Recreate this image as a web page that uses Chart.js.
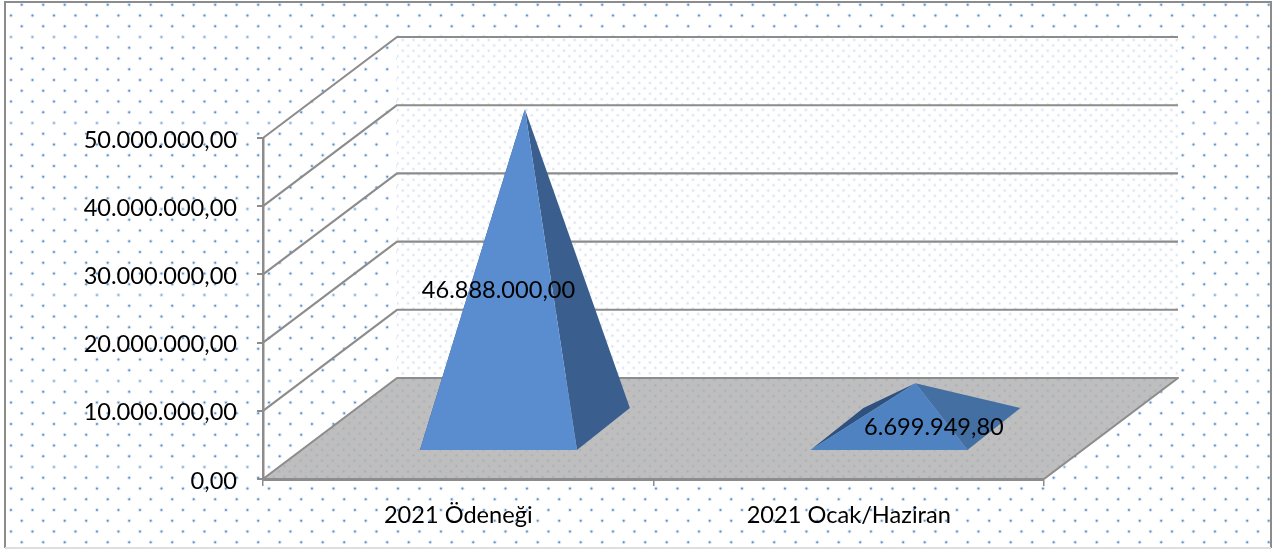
<!DOCTYPE html>
<html lang="tr">
<head>
<meta charset="utf-8">
<title>2021 Ödeneği</title>
<style>
    html, body { margin: 0; padding: 0; background: #fff; }
    canvas { display: block; }
</style>
<script src="https://cdn.jsdelivr.net/npm/chart.js@4"></script>
</head>
<body>
<canvas id="pyramid-chart" width="1282" height="549"></canvas>
<script>
// =======================
// The data
// =======================
const categories = ["2021 Ödeneği", "2021 Ocak/Haziran"];
const values = [46888000, 6699949.80];
const yTicks = [0, 10000000, 20000000, 30000000, 40000000, 50000000];

// =======================
// The look
// =======================
const fontFamily = 'Lato, "Open Sans", sans-serif';
const fontSize = 23.6;
const lineColor = '#8c8c8c';
const depth = { x: 134, y: -101 };      // how far the back wall sits from the front plane
const barNear = 0.287, barFar = 0.703;  // where the bar base starts and ends along that depth
const barNearX = 0.30, barFarX = 0.695;
const faces = [
    { front: '#5a8dd0', right: '#3a5f8f', left: '#2f5180' },
    { front: '#4f82c0', right: '#436fa3', left: '#2f5180' }
];
const labelShift = [0, 45];

const money = v => v.toLocaleString('tr-TR', { minimumFractionDigits: 2, maximumFractionDigits: 2 });

function drawDots(ctx, x0, y0, x1, y1, step, halo, core, coreSize) {
    const row = step / 2;
    let k = 0;
    for (let y = y0; y < y1; y += row, k++) {
        const faint = step > 15 && k % 8 === 3;
        for (let x = x0 + (k % 2 ? row : step); x < x1; x += step) {
            ctx.fillStyle = halo;
            ctx.beginPath();
            ctx.arc(x, y, coreSize * 2, 0, Math.PI * 2);
            ctx.fill();
            ctx.fillStyle = core;
            ctx.globalAlpha = faint ? 0.6 : 1;
            ctx.beginPath();
            ctx.arc(x, y, coreSize, 0, Math.PI * 2);
            ctx.fill();
            ctx.globalAlpha = 1;
        }
    }
}

function poly(ctx, pts, fill) {
    ctx.beginPath();
    pts.forEach((p, i) => i ? ctx.lineTo(p[0], p[1]) : ctx.moveTo(p[0], p[1]));
    ctx.closePath();
    if (fill) {
        ctx.fillStyle = fill;
        ctx.fill();
    }
}

// =======================
// Walls, floor and grid behind the chart
// =======================
const roomPlugin = {
    id: 'room',
    beforeDraw(chart) {
        const ctx = chart.ctx;
        const { left, right, top, bottom } = chart.chartArea;
        const yScale = chart.scales.y;

        ctx.save();
        ctx.fillStyle = '#fff';
        ctx.fillRect(0, 0, chart.width, chart.height);

        // page dots
        ctx.save();
        ctx.beginPath();
        ctx.rect(6, 3, 1264, 544);
        ctx.clip();
        drawDots(ctx, 0.2, 4.7, 1282, 549, 21.5, 'rgba(79,134,201,.2)', '#5a8ecb', 1);
        ctx.restore();

        // frame
        ctx.strokeStyle = lineColor;
        ctx.lineWidth = 2;
        ctx.beginPath();
        ctx.moveTo(5, 548);
        ctx.lineTo(5, 2);
        ctx.lineTo(1271, 2);
        ctx.lineTo(1271, 548);
        ctx.stroke();
        ctx.strokeStyle = '#dedede';
        ctx.beginPath();
        ctx.moveTo(5, 548);
        ctx.lineTo(1271, 548);
        ctx.stroke();

        // back wall
        const bl = left + depth.x, br = right + depth.x;
        const bt = top + depth.y, bb = bottom + depth.y;
        ctx.save();
        poly(ctx, [[bl, bt], [br, bt], [br, bb], [bl, bb]]);
        ctx.clip();
        ctx.fillStyle = '#fff';
        ctx.fillRect(bl, bt, br - bl, bb - bt);
        drawDots(ctx, bl - 5, bt + 3, br + 5, bb, 10.75, 'rgba(120,160,215,.1)', '#d8e3f3', 0.9);
        ctx.restore();

        // floor
        const floor = [[left, bottom], [right, bottom], [br, bb], [bl, bb]];
        ctx.save();
        poly(ctx, floor, '#bebebe');
        ctx.clip();
        drawDots(ctx, left, bb + 2, br, bottom, 10.75, 'rgba(150,160,180,.2)', '#a9b0bd', 0.8);
        ctx.restore();

        // grid lines, one for every tick
        ctx.strokeStyle = lineColor;
        ctx.lineWidth = 2.1;
        ctx.lineJoin = 'round';
        yScale.ticks.forEach(t => {
            const y = yScale.getPixelForValue(t.value);
            ctx.beginPath();
            ctx.moveTo(left, y);
            ctx.lineTo(bl, y + depth.y);
            ctx.lineTo(br, y + depth.y);
            if (t.value === 0) {
                ctx.lineTo(right, bottom);
            }
            ctx.stroke();
        });
        ctx.restore();
    },

    // =======================
    // The pyramids, built on the bar elements
    // =======================
    afterDatasetsDraw(chart) {
        const ctx = chart.ctx;
        const yScale = chart.scales.y;
        const zero = yScale.getPixelForValue(0);
        chart.getDatasetMeta(0).data.forEach((bar, i) => {
            const half = bar.width / 2;
            const at = (x, fx, fy) => [bar.x + x + depth.x * fx, zero + depth.y * fy];
            const fl = at(-half, barNearX, barNear), fr = at(half, barNearX, barNear);
            const nl = at(-half, barFarX, barFar), nr = at(half, barFarX, barFar);
            const mid = at(0, (barNearX + barFarX) / 2, (barNear + barFar) / 2);
            const apex = [mid[0], mid[1] - (zero - bar.y)];
            poly(ctx, [fl, nl, apex], faces[i].left);
            poly(ctx, [fr, nr, apex], faces[i].right);
            poly(ctx, [fl, fr, apex], faces[i].front);
        });

        ctx.save();
        ctx.font = fontSize + 'px ' + fontFamily;
        ctx.fillStyle = '#000';
        ctx.textAlign = 'center';
        ctx.textBaseline = 'middle';
        chart.getDatasetMeta(0).data.forEach((bar, i) => {
            const y = zero + depth.y * barNear - (zero - bar.y) / 2;
            ctx.fillText(money(values[i]), bar.x + depth.x * barNearX + labelShift[i], y);
        });
        ctx.restore();
    }
};

// =======================
// The chart
// =======================
const pyramidCanvas = document.querySelector('#pyramid-chart');
const pyramidData = {
    labels: categories,
    datasets: [{
        data: values,
        backgroundColor: 'transparent',
        borderWidth: 0,
        categoryPercentage: 1,
        barPercentage: 0.402
    }]
};
const pyramidOptions = {
    responsive: false,
    animation: false,
    layout: {
        padding: { top: 138, right: 238, left: 0, bottom: 0 }
    },
    scales: {
        x: {
            afterFit: scale => { scale.height = 70; },
            grid: {
                drawOnChartArea: false,
                color: lineColor,
                lineWidth: 1.5,
                tickLength: 7
            },
            border: { color: lineColor, width: 3 },
            ticks: {
                color: '#000',
                padding: 15,
                font: { family: fontFamily, size: fontSize },
                maxRotation: 0
            }
        },
        y: {
            min: 0,
            max: 50000000,
            afterFit: scale => { scale.width = 263; },
            afterBuildTicks: scale => { scale.ticks = yTicks.map(value => ({ value })); },
            grid: {
                drawOnChartArea: false,
                color: lineColor,
                lineWidth: 2,
                tickLength: 6
            },
            border: { color: lineColor, width: 2.5 },
            ticks: {
                color: '#000',
                padding: 20,
                labelOffset: 2,
                font: { family: fontFamily, size: fontSize },
                callback: value => money(value)
            }
        }
    },
    plugins: {
        legend: { display: false },
        tooltip: { enabled: false }
    }
};
let pyramidChart = new Chart(pyramidCanvas, {
    type: 'bar',
    data: pyramidData,
    options: pyramidOptions,
    plugins: [roomPlugin]
});
</script>
</body>
</html>
